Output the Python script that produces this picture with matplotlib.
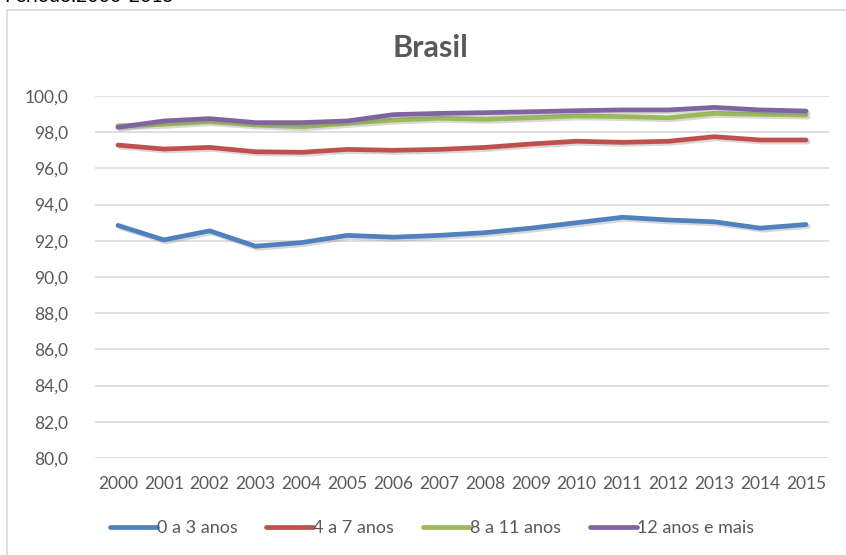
import matplotlib
matplotlib.use("Agg")
import matplotlib.pyplot as plt
import matplotlib.patheffects as pe
from matplotlib.lines import Line2D
from matplotlib.patches import Rectangle

years = [str(y) for y in range(2000, 2016)]
s_0a3 = [92.85, 92.05, 92.55, 91.7, 91.9, 92.3, 92.2, 92.3, 92.45, 92.7, 93.0, 93.3, 93.15, 93.05, 92.7, 92.9]
s_4a7 = [97.29, 97.07, 97.16, 96.92, 96.89, 97.05, 97.0, 97.05, 97.16, 97.35, 97.5, 97.44, 97.5, 97.75, 97.57, 97.57]
s_8a11 = [98.35, 98.44, 98.58, 98.4, 98.3, 98.49, 98.67, 98.77, 98.71, 98.8, 98.9, 98.86, 98.8, 99.04, 98.99, 98.95]
s_12mais = [98.27, 98.62, 98.75, 98.53, 98.53, 98.62, 98.97, 99.04, 99.08, 99.13, 99.19, 99.23, 99.23, 99.37, 99.23, 99.17]
labels = ["0 a 3 anos", "4 a 7 anos", "8 a 11 anos", "12 anos e mais"]
colors = ["#4F81BD", "#C0504D", "#9BBB59", "#8064A2"]
yticks = [80, 82, 84, 86, 88, 90, 92, 94, 96, 98, 100]

plt.rcParams['font.family'] = ['Lato', 'DejaVu Sans']
txt = "#595959"
W, H = 846, 555
fig = plt.figure(figsize=(W/100, H/100), dpi=100)

# chart border
fig.patches.append(Rectangle((7/W, -0.1), 1.0, 1 - 9.5/H + 0.1, transform=fig.transFigure,
                             fill=False, edgecolor="#D9D9D9", linewidth=1.2))
# cropped header text (only its lower edge is visible in the reference)
fig.text(4/W, 1 - 1.5/H, "Período:2000-2015", ha="left", va="baseline", fontsize=14, color="black")

ax = fig.add_axes([95/W, 1 - 458/H, (829-95)/W, (458-96)/H])
x = list(range(len(years)))
for s, c, l in zip([s_0a3, s_4a7, s_8a11, s_12mais], colors, labels):
    ax.plot(x, s, color=c, lw=3.4, solid_capstyle="round", label=l, zorder=3,
            path_effects=[pe.SimpleLineShadow(offset=(1.5, -1.5), shadow_color="gray", alpha=0.3), pe.Normal()])

ax.set_xlim(-0.5, 15.5)
ax.set_ylim(80, 100)
ax.set_yticks(yticks)
ax.set_yticklabels([f"{v:.1f}".replace(".", ",") for v in yticks])
ax.set_xticks(x)
ax.set_xticklabels(years)
ax.grid(axis="y", color="#D9D9D9", lw=1.2)
ax.set_axisbelow(True)
for sp in ax.spines.values():
    sp.set_visible(False)
ax.tick_params(length=0, colors=txt)
ax.tick_params(axis="y", pad=19, labelsize=12.5)
ax.tick_params(axis="x", pad=13, labelsize=12.5)

fig.text(430/W, 1 - 57/H, "Brasil", ha="center", va="baseline", fontsize=22, fontweight="bold", color=txt)

handles = [Line2D([0], [0], color=c, lw=3.4, solid_capstyle="round") for c in colors]
fig.legend(handles, labels, loc="center", bbox_to_anchor=(432/W, 1 - 528/H), ncol=4, frameon=False,
           fontsize=13, labelcolor=txt, handlelength=2.6, handletextpad=0.0, columnspacing=1.6)

fig.savefig("out.png", dpi=100)
